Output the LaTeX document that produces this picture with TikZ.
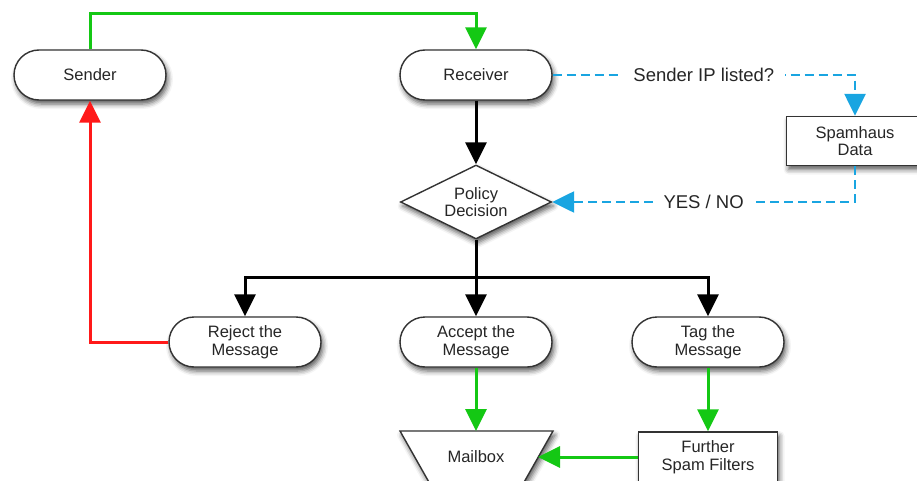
\documentclass[tikz,border=0pt]{standalone}
\usepackage{fontspec}
\setmainfont{Liberation Sans}
\usetikzlibrary{shapes.geometric,arrows.meta,shadows.blur}
\definecolor{fgreen}{RGB}{20,200,20}
\definecolor{fred}{RGB}{255,25,25}
\definecolor{fblue}{RGB}{25,165,225}
\begin{document}
\begin{tikzpicture}[x=1pt,y=-1pt,
  outline/.style={draw=black!80,line width=1.4pt,fill=white,
    blur shadow={shadow xshift=2pt,shadow yshift=-4pt,shadow blur radius=5pt,shadow opacity=65}},
  txt/.style={align=center,text=black!85,font=\fontsize{16.5}{17.5}\selectfont,inner sep=0pt},
  box/.style={outline,txt},
  pill/.style={box,rounded corners=25pt,minimum width=152pt,minimum height=50pt},
  rectbox/.style={box,minimum width=137pt,minimum height=49pt},
  decision/.style={box,diamond,aspect=2,minimum width=151pt,minimum height=74pt},
  tip/.style={-{Triangle[length=22pt,width=21pt]}},
  flowblack/.style={tip,line width=3pt,black},
  flowgreen/.style={tip,line width=3pt,fgreen},
  flowred/.style={tip,line width=3pt,fred},
  flowblue/.style={tip,line width=2.5pt,fblue,dash pattern=on 9pt off 5pt},
  lbl/.style={fill=white,text=black!85,font=\fontsize{18.5}{20}\selectfont,inner xsep=11pt,inner ysep=2pt}
]
\useasboundingbox (0,0) rectangle (917,481);
\clip (0,0) rectangle (917,481);

\node[pill] (snd) at (90,75) {Sender};
\node[pill] (rcv) at (476,75) {Receiver};
\node[rectbox] (spam) at (855,141) {Spamhaus\\Data};
\node[decision] (pol) at (476,202) {Policy\\Decision};
\node[pill] (rej) at (245,342) {Reject the\\Message};
\node[pill] (acc) at (476,342) {Accept the\\Message};
\node[pill] (tag) at (708,342) {Tag the\\Message};
\path[outline] (400,431) -- (553,431) -- (523,484) -- (430,484) -- cycle;
\node[txt] (mb) at (476,457) {Mailbox};
\coordinate (mbside) at (538,457);
\node[rectbox,minimum width=139pt,minimum height=50pt] (fsf) at (708,457) {Further\\Spam Filters};

\draw[flowgreen] (snd.north) -- ++(0,-36) -| (rcv.north);
\draw[flowblack] (rcv.south) -- (pol.north);
\draw[flowblue] (rcv.east) -| node[lbl,pos=0.25] {Sender IP listed?} (spam.north);
\draw[flowblue] (spam.south) |- node[lbl,pos=0.75] {YES / NO} (pol.east);
\draw[line width=3pt] (pol.south) -- ++(0,38) coordinate (br);
\draw[flowblack] (br) -| (rej.north);
\draw[flowblack] (br) -- (acc.north);
\draw[flowblack] (br) -| (tag.north);
\draw[flowred] (rej.west) -| (snd.south);
\draw[flowgreen] (acc.south) -- (acc.south |- 0,431);
\draw[flowgreen] (tag.south) -- (fsf.north);
\draw[flowgreen] (fsf.west) -- (mbside);
\end{tikzpicture}
\end{document}
